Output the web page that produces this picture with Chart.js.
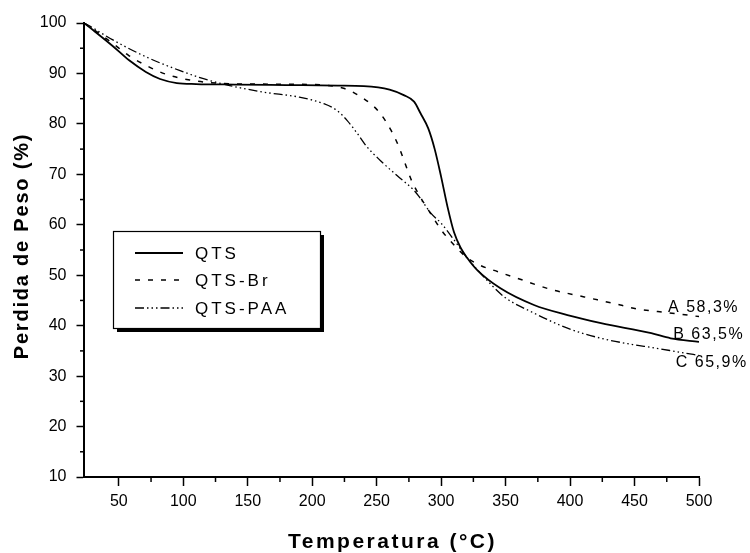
<!DOCTYPE html>
<html><head><meta charset="utf-8">
<script src="https://cdn.jsdelivr.net/npm/chart.js@4.4.1/dist/chart.umd.min.js"></script>
<style>html,body{margin:0;padding:0;background:#fff}#wrap{width:750px;height:553px;position:relative}</style>
</head><body><div id="wrap"><canvas id="c" width="750" height="553"></canvas></div>
<script>
// ---- data ----
const seriesNames = ['QTS', 'QTS-Br', 'QTS-PAA'];
const qtsTemp   = [23,30,45,58,71,82,95,110,140,180,220,240,260,271,279,284,290,295,300,305,310,315,320,328,346,372,398,424,463,478,500];
const qtsWeight = [100,98.6,95.5,92.6,90.3,88.9,88.1,87.9,87.8,87.7,87.6,87.5,86.8,85.7,84.4,82.1,79.1,75,69.5,63.5,58.5,55.5,53.5,51,47.4,44.1,42.1,40.5,38.5,37.5,36.8];
const brTemp    = [23,30,45,58,71,87,105,120,150,200,225,235,248,253,261,267,272,277,285,290,300,310,320,330,344,359,385,411,439,452,468,485,500];
const brWeight  = [100,98.8,96,93.5,91.6,89.8,88.7,88.2,87.9,87.8,87,85.8,83.4,82,78.8,75.6,72.2,68.8,65,63,59,56,53.5,52,50.7,49.4,47.2,45.7,44.1,43.3,42.8,42.3,41.8];
const paaTemp   = [23,30,45,71,97,115,136,162,190,209,219,227,235,242,253,266,279,284,292,300,310,320,333,349,372,398,424,450,463,486,500];
const paaWeight = [100,99,96.7,93.3,90.6,89,87.6,86.3,85.3,84,82.7,80.7,78.1,75.6,72.7,69.7,66.8,65.2,62.3,60.3,57,53.5,49.7,45.7,42.5,39.5,37.5,36.2,35.7,34.7,34.1];
const xTickValues = [50,100,150,200,250,300,350,400,450,500];
const xMinorTicks = [75,125,175,225,275,325,375,425,475];
const yTickValues = [10,20,30,40,50,60,70,80,90,100];
const yMinorTicks = [15,25,35,45,55,65,75,85,95];
const endLabels = ['A 58,3%', 'B 63,5%', 'C 65,9%'];
const endLabelTemp = [476, 480, 482];
const endLabelWeight = [43.5, 38.2, 32.6];
const xTitle = 'Temperatura (°C)';
const yTitle = 'Perdida de Peso (%)';

const toPts = (xs, ys) => xs.map((x, i) => ({x, y: ys[i]}));
const dashes = [[], [5, 8], [9, 3, 1.5, 3, 1.5, 3, 1.5, 3]];
const widths = [1.8, 1.5, 1.3];
const FAM = 'Arial, "Liberation Sans", sans-serif';

Chart.defaults.font.family = FAM;
Chart.defaults.color = '#000';

const extras = {
  id: 'extras',
  afterDraw(chart) {
    const {ctx, scales: {x, y}} = chart;
    ctx.save();
    ctx.strokeStyle = '#000';
    ctx.lineWidth = 1.5;
    xMinorTicks.forEach(v => {
      const px = x.getPixelForValue(v);
      ctx.beginPath(); ctx.moveTo(px, y.bottom); ctx.lineTo(px, y.bottom + 5); ctx.stroke();
    });
    yMinorTicks.forEach(v => {
      const py = y.getPixelForValue(v);
      ctx.beginPath(); ctx.moveTo(x.left, py); ctx.lineTo(x.left - 4, py); ctx.stroke();
    });
    // axis titles
    ctx.fillStyle = '#000';
    ctx.textBaseline = 'middle';
    ctx.textAlign = 'center';
    ctx.font = 'bold 21px ' + FAM;
    ctx.letterSpacing = '2.5px';
    ctx.fillText(xTitle, (x.left + x.right) / 2 + 1, 542);
    ctx.save();
    ctx.translate(22, (y.top + y.bottom) / 2 - 3);
    ctx.rotate(-Math.PI / 2);
    ctx.font = 'bold 20px ' + FAM;
    ctx.letterSpacing = '1.8px';
    ctx.fillText(yTitle, 1, 0);
    ctx.restore();
    // end labels
    ctx.font = '16px ' + FAM;
    ctx.letterSpacing = '1.5px';
    ctx.textAlign = 'left';
    endLabels.forEach((t, i) => {
      ctx.fillText(t, x.getPixelForValue(endLabelTemp[i]), y.getPixelForValue(endLabelWeight[i]));
    });
    // legend box
    const bx = 113, by = 231, bw = 207, bh = 97;
    ctx.fillStyle = '#000';
    ctx.fillRect(bx + 4, by + bh, bw, 4);
    ctx.fillRect(bx + bw, by + 4, 4, bh);
    ctx.fillStyle = '#fff';
    ctx.fillRect(bx, by, bw, bh);
    ctx.lineWidth = 1.2;
    ctx.strokeRect(bx + 0.5, by + 0.5, bw, bh);
    const rows = [253, 280, 308];
    ctx.font = '17px ' + FAM;
    chart.data.datasets.forEach((ds, i) => {
      ctx.beginPath();
      ctx.setLineDash(ds.borderDash || []);
      ctx.lineWidth = ds.borderWidth;
      ctx.moveTo(135, rows[i]); ctx.lineTo(183, rows[i]);
      ctx.stroke();
      ctx.setLineDash([]);
      ctx.fillStyle = '#000';
      ctx.letterSpacing = '3px';
      ctx.fillText(ds.label, 195, rows[i] + 1);
    });
    ctx.restore();
  }
};

new Chart(document.getElementById('c'), {
  type: 'line',
  data: {
    datasets: [
      {label: seriesNames[0], data: toPts(qtsTemp, qtsWeight)},
      {label: seriesNames[1], data: toPts(brTemp, brWeight)},
      {label: seriesNames[2], data: toPts(paaTemp, paaWeight)}
    ].map((d, i) => Object.assign(d, {
      borderColor: '#000', borderWidth: widths[i], borderDash: dashes[i],
      pointRadius: 0, fill: false, cubicInterpolationMode: 'monotone'
    }))
  },
  options: {
    responsive: false, animation: false, devicePixelRatio: 1,
    layout: {padding: {left: 0, right: 51, top: 23, bottom: 0}},
    plugins: {legend: {display: false}, tooltip: {enabled: false}},
    scales: {
      x: {
        type: 'linear', min: 23, max: 500,
        afterFit: s => { s.height = 76; },
        afterBuildTicks: s => { s.ticks = xTickValues.map(v => ({value: v})); },
        ticks: {autoSkip: false, maxRotation: 0, padding: 6, font: {size: 16}, color: '#000'},
        grid: {drawOnChartArea: false, drawTicks: true, tickLength: 9, tickColor: '#000', tickWidth: 1.5},
        border: {color: '#000', width: 2},
        title: {display: false}
      },
      y: {
        type: 'linear', min: 10, max: 100,
        afterFit: s => { s.width = 84; },
        afterBuildTicks: s => { s.ticks = yTickValues.map(v => ({value: v})); },
        ticks: {autoSkip: false, padding: 10, font: {size: 16}, color: '#000'},
        grid: {drawOnChartArea: false, drawTicks: true, tickLength: 7.5, tickColor: '#000', tickWidth: 1.5},
        border: {color: '#000', width: 2},
        title: {display: false}
      }
    }
  },
  plugins: [extras]
});
</script></body></html>
